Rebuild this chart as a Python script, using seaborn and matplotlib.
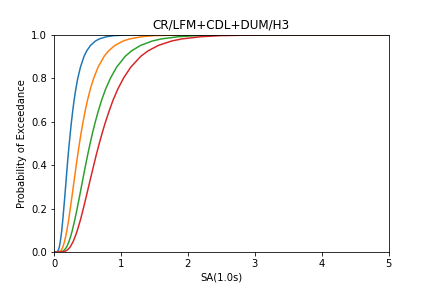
import matplotlib
matplotlib.use("Agg")
import matplotlib.pyplot as plt
import seaborn as sns
import pandas as pd

title = "CR/LFM+CDL+DUM/H3"
x_label = "SA(1.0s)"
y_label = "Probability of Exceedance"
damage_states = ["Slight", "Moderate", "Extensive", "Complete"]

# probability levels (plus start/end points)
prob_levels = [0.0, 0.001, 0.005, 0.01, 0.02, 0.03, 0.05, 0.075, 0.1, 0.15, 0.2,
               0.25, 0.3, 0.35, 0.4, 0.45, 0.5, 0.55, 0.6, 0.65, 0.7, 0.75,
               0.8, 0.85, 0.9, 0.925, 0.95, 0.97, 0.98, 0.99, 0.995, 0.999, 1.0]

# SA values at which each curve reaches the levels above
sa_slight = [0.0, 0.044, 0.058, 0.066, 0.077, 0.084, 0.095, 0.106, 0.116, 0.132,
             0.146, 0.160, 0.173, 0.186, 0.199, 0.213, 0.228, 0.244, 0.261,
             0.280, 0.301, 0.326, 0.356, 0.395, 0.449, 0.489, 0.545, 0.618,
             0.677, 0.783, 0.893, 1.173, 5.0]
sa_moderate = [0.0, 0.074, 0.097, 0.111, 0.128, 0.140, 0.159, 0.177, 0.193, 0.220,
               0.243, 0.266, 0.288, 0.310, 0.332, 0.356, 0.380, 0.406, 0.435,
               0.466, 0.502, 0.543, 0.594, 0.658, 0.749, 0.815, 0.909, 1.030,
               1.129, 1.305, 1.488, 1.956, 5.0]
sa_extensive = [0.0, 0.105, 0.138, 0.157, 0.182, 0.199, 0.226, 0.252, 0.274, 0.312,
                0.346, 0.378, 0.409, 0.440, 0.472, 0.505, 0.540, 0.577, 0.618,
                0.663, 0.713, 0.772, 0.844, 0.935, 1.064, 1.158, 1.292, 1.464,
                1.604, 1.854, 2.115, 2.779, 5.0]
sa_complete = [0.0, 0.136, 0.178, 0.202, 0.234, 0.255, 0.289, 0.321, 0.349, 0.397,
               0.438, 0.478, 0.516, 0.555, 0.594, 0.634, 0.677, 0.722, 0.771,
               0.825, 0.884, 0.954, 1.039, 1.146, 1.296, 1.405, 1.558, 1.753,
               1.910, 2.190, 2.480, 3.200, 5.0]

curves = [sa_slight, sa_moderate, sa_extensive, sa_complete]
rows = []
for name, sa in zip(damage_states, curves):
    for i, (xv, pv) in enumerate(zip(sa, prob_levels)):
        rows.append({"state": name, "order": i, "sa": xv, "p": pv})
df = pd.DataFrame(rows)

sns.set_style("ticks")
fig, ax = plt.subplots(figsize=(6, 4), dpi=72)
fig.subplots_adjust(left=0.125, right=0.9, bottom=0.125, top=0.88)

sns.lineplot(data=df, x="sa", y="p", hue="state", hue_order=damage_states,
             palette=sns.color_palette("tab10", 4), sort=False, estimator=None,
             units="state", legend=False, linewidth=1.5, ax=ax)

ax.set_xlim(0, 5)
ax.set_ylim(0, 1)
ax.set_xticks([0, 1, 2, 3, 4, 5])
ax.set_yticks([0.0, 0.2, 0.4, 0.6, 0.8, 1.0])
ax.set_title(title, fontsize=12, color="black")
ax.set_xlabel(x_label, fontsize=10, color="black")
ax.set_ylabel(y_label, fontsize=10, color="black")
ax.tick_params(labelsize=10, colors="black")
for s in ax.spines.values():
    s.set_color("black")
    s.set_linewidth(0.8)

fig.savefig("out.png", dpi=72)
